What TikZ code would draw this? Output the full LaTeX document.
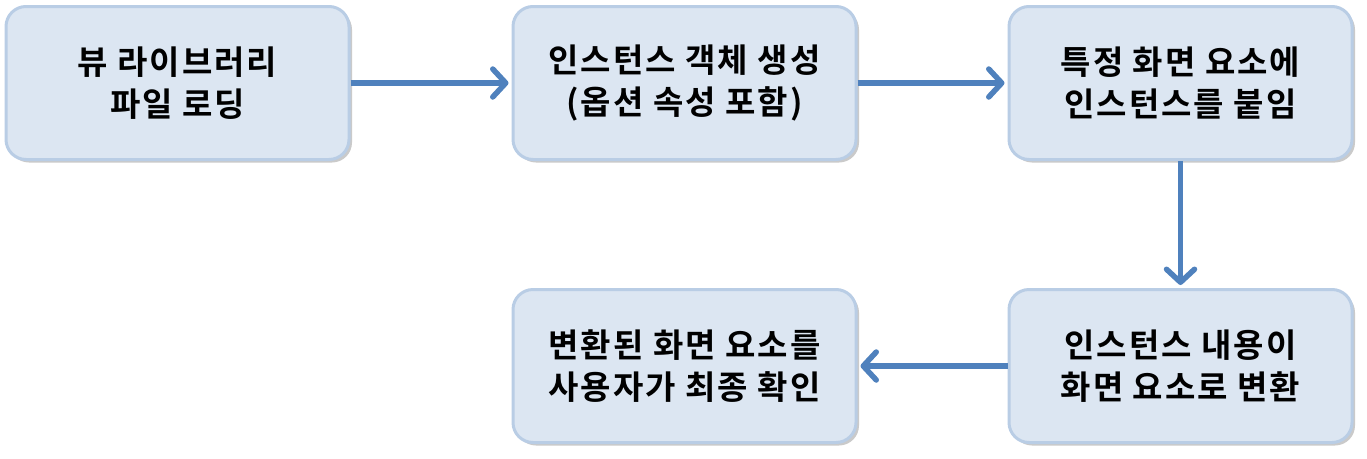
\documentclass[tikz,border=0pt]{standalone}
\usepackage{fontspec}
\setmainfont{Noto Sans CJK KR}[BoldFont={Noto Sans CJK KR Bold},LetterSpace=6]
\usetikzlibrary{positioning,shapes,arrows.meta,shadows}

\definecolor{boxfill}{HTML}{DCE6F2}
\definecolor{boxline}{HTML}{B9CDE5}
\definecolor{arrowblue}{HTML}{4F81BD}

\begin{document}
\begin{tikzpicture}[x=1pt,y=-1pt,
  proc/.style={rectangle,rounded corners=20pt,draw=boxline,line width=3pt,fill=boxfill,
    minimum width=343pt,minimum height=153pt,align=center,
    font=\fontsize{33}{42}\selectfont\bfseries,
    drop shadow={shadow xshift=3pt,shadow yshift=-3pt,opacity=0.35,fill=black!60}},
  flow/.style={draw=arrowblue,line width=5.5pt,
    -{Straight Barb[length=13pt,width=28pt,line width=5.5pt,round]}}]
\useasboundingbox (0,0) rectangle (1367,458);
\node [proc] (a) at (177.5,83) {뷰 라이브러리\\파일 로딩};
\node [proc, right=161pt of a] (b) {인스턴스 객체 생성\\(옵션 속성 포함)};
\node [proc, right=150pt of b] (c) {특정 화면 요소에\\인스턴스를 붙임};
\node [proc, below=127pt of c] (e) {인스턴스 내용이\\화면 요소로 변환};
\node [proc, left=150pt of e] (d) {변환된 화면 요소를\\사용자가 최종 확인};
\path (a) edge[flow, shorten >=3pt] (b)
(b) edge[flow, shorten >=3pt] (c)
(c) edge[flow, shorten >=3pt] (e)
(e) edge[flow, shorten >=3pt] (d);
\end{tikzpicture}
\end{document}
